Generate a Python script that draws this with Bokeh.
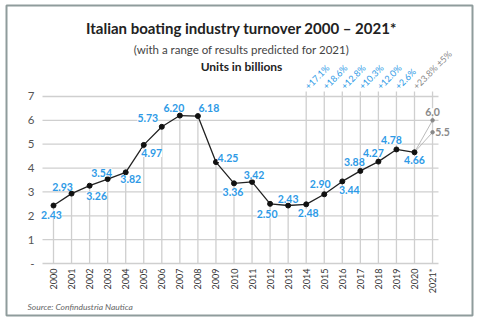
import math
from bokeh.plotting import figure
from bokeh.models import ColumnDataSource, LabelSet, Label, Range1d
from bokeh.core.properties import value
from bokeh.embed import file_html
from bokeh.resources import INLINE

# ---------------- data ----------------
years = [str(y) for y in range(2000, 2021)] + ["2021*"]
turnover = [2.43, 2.93, 3.26, 3.54, 3.82, 4.97, 5.73, 6.20, 6.18, 4.25, 3.36,
            3.42, 2.50, 2.43, 2.48, 2.90, 3.44, 3.88, 4.27, 4.78, 4.66]
turnover_labels = ["2.43", "2.93", "3.26", "3.54", "3.82", "4.97", "5.73", "6.20",
                   "6.18", "4.25", "3.36", "3.42", "2.50", "2.43", "2.48", "2.90",
                   "3.44", "3.88", "4.27", "4.78", "4.66"]
forecast_2021 = [6.0, 5.5]
forecast_labels = ["6.0", "5.5"]
growth_labels = ["+17.1%", "+18.6%", "+12.8%", "+10.3%", "+12.0%", "+2.6%", "+23.8% ±5%"]
y_ticks = [0, 1, 2, 3, 4, 5, 6, 7]
y_tick_labels = ["-", "1", "2", "3", "4", "5", "6", "7"]

# ---------------- layout / style ----------------
W, H = 480, 324
BOX_L, BOX_R, BOX_T, BOX_B = 6, 472, 5, 315   # outer frame in px
PX_X = 18.05      # px per year
PX_Y = 23.86      # px per unit
X0_PX, Y0_PX = 53, 263   # pixel of year index 0 / value 0
GRID_L, GRID_R = 42, 438
FONT = "Lato"
BLUE = "#2e9ae6"
GRAY_TXT = "#8a8a8a"
GRID = "#cfcfcf"

def dx(px):
    return (px - X0_PX) / PX_X

def dy(px):
    return (Y0_PX - px) / PX_Y

p = figure(width=W, height=H, output_backend="svg", toolbar_location=None,
           x_axis_type=None, y_axis_type=None,
           x_range=Range1d(dx(BOX_L), dx(BOX_R)), y_range=Range1d(dy(BOX_B), dy(BOX_T)),
           min_border_left=BOX_L, min_border_right=W - BOX_R,
           min_border_top=BOX_T, min_border_bottom=H - BOX_B)
p.grid.visible = False
p.outline_line_color = "#8f9c9c"
p.outline_line_width = 2
p.background_fill_color = "white"
p.border_fill_color = "white"

n = len(turnover)
xs = list(range(len(years)))
top_line = dy(91)

# horizontal grid lines
p.segment(x0=[dx(GRID_L)] * len(y_ticks), y0=y_ticks, x1=[dx(GRID_R)] * len(y_ticks),
          y1=y_ticks, line_color=GRID, line_width=1.3)

# vertical drop lines
seg_top = [turnover[i] if int(years[i][:4]) < 2014 else top_line for i in range(n)] + [top_line]
p.segment(x0=xs, y0=[0] * len(xs), x1=xs, y1=seg_top, line_color=GRID, line_width=1.3)

# tick labels
p.text(x=[dx(34)] * len(y_ticks), y=y_ticks, text=y_tick_labels,
       text_align="right", text_baseline="middle", text_font=value(FONT),
       text_font_size="11.5px", text_color="#555555")
p.text(x=xs, y=[dy(268)] * len(xs), text=years, angle=math.pi / 2,
       text_align="right", text_baseline="middle", text_font=value(FONT),
       text_font_size="9px", text_color="#333333")

# forecast lines
for v in forecast_2021:
    p.line([n - 1, n], [turnover[-1], v], line_color="#bbbbbb", line_width=1)
p.scatter([n, n], forecast_2021, size=3.5, color="#888888")

# main line
p.line(list(range(n)), turnover, line_color="#222222", line_width=1.3)
p.scatter(list(range(n)), turnover, size=5, color="#111111")

# value labels
lab_dx = [-2, -9, 7, -6, 5, 8, -14, -6, 11, 12, -1, 2, -3, 0, 2, -4, 7, -6, -5, -5, 0]
lab_dy = [9, -7, 10, -6.5, 7, 8, -9, -8, -8, -4, 9, -6.5, 10.5, -7, 9, -10, 9, -9, -8.5, -9, 8]
src = ColumnDataSource(dict(x=list(range(n)), y=turnover, t=turnover_labels,
                            xo=lab_dx, yo=[-d for d in lab_dy]))
p.add_layout(LabelSet(x="x", y="y", text="t", source=src, x_offset="xo", y_offset="yo",
                      text_align="center", text_baseline="middle",
                      text_font=value(FONT), text_font_size=value("10.5px"),
                      text_font_style="bold",
                      text_color=BLUE, background_fill_color="white"))

fsrc = ColumnDataSource(dict(x=[n, n], y=forecast_2021, t=forecast_labels,
                             xo=[0, 10], yo=[8, 0]))
p.add_layout(LabelSet(x="x", y="y", text="t", source=fsrc, x_offset="xo", y_offset="yo",
                      text_align="center", text_baseline="middle",
                      text_font=value(FONT), text_font_size=value("10.5px"),
                      text_font_style="bold",
                      text_color=GRAY_TXT, background_fill_color="white"))

# growth labels (rotated)
gsrc = ColumnDataSource(dict(x=list(range(14, 14 + len(growth_labels))),
                             y=[top_line] * len(growth_labels), t=growth_labels,
                             c=[BLUE] * (len(growth_labels) - 1) + [GRAY_TXT]))
p.add_layout(LabelSet(x="x", y="y", text="t", source=gsrc, x_offset=4, y_offset=0,
                      angle=math.pi / 4, text_align="left", text_baseline="bottom",
                      text_font=value(FONT), text_font_size=value("9px"), text_color="c"))

# titles
p.add_layout(Label(x=dx(241), y=dy(27), text="Italian boating industry turnover 2000 – 2021*",
                   text_align="center", text_baseline="middle", text_font=FONT,
                   text_font_size="15px", text_font_style="bold", text_color="#222222"))
p.add_layout(Label(x=dx(241), y=dy(48.5), text="(with a range of results predicted for 2021)",
                   text_align="center", text_baseline="middle", text_font=FONT,
                   text_font_size="11.5px", text_color="#444444"))
p.add_layout(Label(x=dx(241), y=dy(66), text="Units in billions",
                   text_align="center", text_baseline="middle", text_font=FONT,
                   text_font_size="12px", text_font_style="bold", text_color="#222222"))
p.add_layout(Label(x=dx(27), y=dy(306), text="Source:  Confindustria Nautica",
                   text_align="left", text_baseline="middle", text_font=FONT,
                   text_font_size="8.5px", text_font_style="italic", text_color="#666666"))

open("out.html", "w").write(file_html(p, INLINE))
